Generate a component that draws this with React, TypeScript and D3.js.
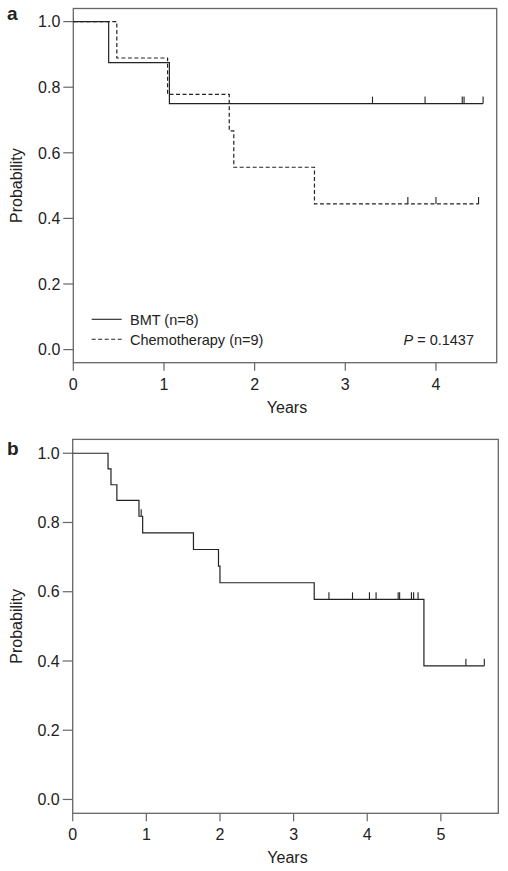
import React from "react";
import * as d3 from "d3";

// Panel a data
const A_BMT_TIMES = [0, 0.39, 1.06, 4.52];
const A_BMT_SURV = [1, 0.875, 0.75, 0.75];
const A_BMT_CENSOR = [3.3, 3.88, 4.29, 4.31, 4.52];
const A_CHEMO_TIMES = [0, 0.48, 1.04, 1.72, 1.77, 2.66, 4.47];
const A_CHEMO_SURV = [1, 0.889, 0.778, 0.667, 0.556, 0.444, 0.444];
const A_CHEMO_CENSOR = [3.69, 4.0, 4.47];
const A_X_TICKS = [0, 1, 2, 3, 4];
const LEGEND_LABELS = ["BMT (n=8)", "Chemotherapy (n=9)"];
const P_VALUE = "0.1437";

// Panel b data
const B_TIMES = [0, 0.48, 0.52, 0.6, 0.9, 0.95, 1.64, 1.98, 2.0, 3.28, 4.77, 5.59];
const B_SURV = [1, 0.955, 0.909, 0.864, 0.818, 0.77, 0.722, 0.674, 0.626, 0.578, 0.386, 0.386];
const B_CENSOR = [0.93, 3.48, 3.8, 4.03, 4.12, 4.42, 4.44, 4.6, 4.63, 4.69, 5.34, 5.59];
const B_X_TICKS = [0, 1, 2, 3, 4, 5];

const Y_TICKS = [0, 0.2, 0.4, 0.6, 0.8, 1.0];

const FONT = "'Liberation Sans', Arial, Helvetica, sans-serif";
const TEXT = "#222";
const BOX = "#666";
const CURVE = "#222";

type Curve = { times: number[]; surv: number[]; censor: number[]; dash?: string };

function survAt(times: number[], surv: number[], t: number) {
  let s = surv[0];
  for (let i = 0; i < times.length; i++) if (times[i] <= t) s = surv[i];
  return s;
}

function Panel(props: {
  left: number; right: number; top: number; bottom: number;
  xMax: number; xTicks: number[]; curves: Curve[]; letter: string; letterY: number; children?: React.ReactNode;
}) {
  const { left, right, top, bottom, xMax, xTicks, curves, letter, letterY } = props;
  const x = d3.scaleLinear().domain([0, xMax]).range([left, right]);
  const y = d3.scaleLinear().domain([-0.04, 1.04]).range([bottom, top]);
  const line = d3.line<[number, number]>().x(d => x(d[0])).y(d => y(d[1])).curve(d3.curveStepAfter);
  return (
    <g>
      <text x={7} y={letterY} fontFamily={FONT} fontWeight="bold" fontSize={19} fill={TEXT}>{letter}</text>
      <rect x={left} y={top} width={right - left} height={bottom - top} fill="none" stroke={BOX} strokeWidth={1.3} />
      {Y_TICKS.map(v => (
        <g key={v}>
          <line x1={left - 10} x2={left} y1={y(v)} y2={y(v)} stroke={BOX} strokeWidth={1.2} />
          <text x={left - 13} y={y(v)} dy="0.36em" textAnchor="end" fontFamily={FONT} fontSize={16} fill={TEXT}>{v.toFixed(1)}</text>
        </g>
      ))}
      {xTicks.map(v => (
        <g key={v}>
          <line x1={x(v)} x2={x(v)} y1={bottom} y2={bottom + 8} stroke={BOX} strokeWidth={1.2} />
          <text x={x(v)} y={bottom + 27} textAnchor="middle" fontFamily={FONT} fontSize={16} fill={TEXT}>{v}</text>
        </g>
      ))}
      <text x={(left + right) / 2 + 2} y={bottom + 50} textAnchor="middle" fontFamily={FONT} fontSize={16} fill={TEXT}>Years</text>
      <text transform={`translate(22,${(top + bottom) / 2}) rotate(-90)`} textAnchor="middle" fontFamily={FONT} fontSize={16} fill={TEXT}>Probability</text>
      {curves.map((c, i) => {
        const pts: [number, number][] = c.times.map((t, j) => [t, c.surv[j]]);
        return (
          <g key={i}>
            <path d={line(pts) || ""} fill="none" stroke={CURVE} strokeWidth={1.2} strokeDasharray={c.dash} />
            {c.censor.map((t, j) => {
              const s = survAt(c.times, c.surv, t);
              return <line key={j} x1={x(t)} x2={x(t)} y1={y(s)} y2={y(s) - 7} stroke={CURVE} strokeWidth={1.1} />;
            })}
          </g>
        );
      })}
      {props.children}
    </g>
  );
}

export default function App() {
  return (
    <svg width={508} height={871} style={{ position: "absolute", left: 0, top: 0, background: "#fff" }}>
      <Panel left={73.3} right={496.7} top={8.5} bottom={362.7} xMax={4.67} xTicks={A_X_TICKS} letter="a" letterY={20}
        curves={[
          { times: A_BMT_TIMES, surv: A_BMT_SURV, censor: A_BMT_CENSOR },
          { times: A_CHEMO_TIMES, surv: A_CHEMO_SURV, censor: A_CHEMO_CENSOR, dash: "4,2.5" },
        ]}>
        <line x1={91.7} x2={121.7} y1={319.3} y2={319.3} stroke={CURVE} strokeWidth={1.1} />
        <text x={130} y={324.5} fontFamily={FONT} fontSize={14.5} fill={TEXT}>{LEGEND_LABELS[0]}</text>
        <line x1={91.7} x2={121.7} y1={339.3} y2={339.3} stroke={CURVE} strokeWidth={1.1} strokeDasharray="4,2.5" />
        <text x={130} y={344.5} fontFamily={FONT} fontSize={14.5} fill={TEXT}>{LEGEND_LABELS[1]}</text>
        <text x={474} y={345} textAnchor="end" fontFamily={FONT} fontSize={14.5} fill={TEXT}>
          <tspan fontStyle="italic">P</tspan>
          <tspan> = {P_VALUE}</tspan>
        </text>
      </Panel>
      <Panel left={72.7} right={498.3} top={439.4} bottom={813.3} xMax={5.78} xTicks={B_X_TICKS} letter="b" letterY={455}
        curves={[{ times: B_TIMES, surv: B_SURV, censor: B_CENSOR }]} />
    </svg>
  );
}
